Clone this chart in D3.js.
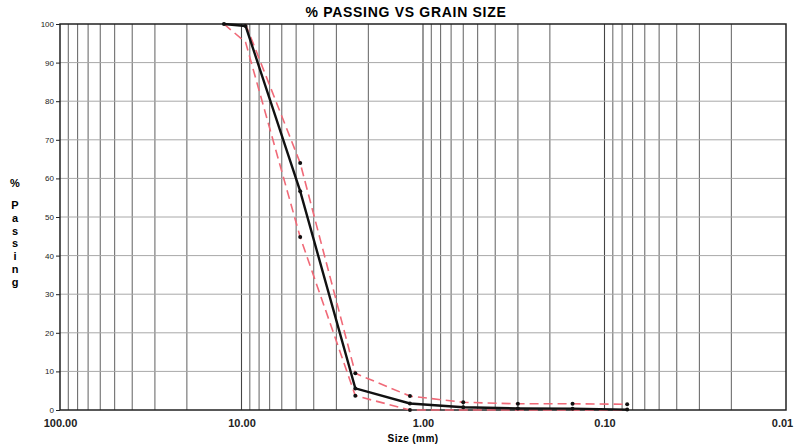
<!DOCTYPE html>
<html>
<head>
<meta charset="utf-8">
<script src="https://cdn.jsdelivr.net/npm/d3@7"></script>
<style>
  body { margin: 0; background: #fff; }
  svg { font-family: "Liberation Sans", Arial, sans-serif; }
</style>
</head>
<body>
<svg id="chart" width="797" height="446"></svg>
<script>
// sieve sizes (mm) and % passing
const sizes = [12.5, 9.5, 4.75, 2.36, 1.18, 0.6, 0.3, 0.15, 0.075];
const passing = [100, 99.5, 56.7, 5.6, 1.7, 0.7, 0.4, 0.35, 0.1];
const upperSizes = [9.5, 4.75, 2.36, 1.18, 0.6, 0.3, 0.15, 0.075];
const upperLimit = [100, 64, 9.5, 3.6, 2.0, 1.6, 1.6, 1.5];
const lowerSizes = [12.5, 9.5, 4.75, 2.36, 1.18, 0.6, 0.3, 0.15, 0.075];
const lowerLimit = [100, 95.3, 44.8, 3.7, 0, 0, 0, 0, 0];
const xTicks = [100, 10, 1, 0.1, 0.01];
const yTicks = d3.range(0, 101, 10);

const svg = d3.select("#chart");
const margin = {top: 24, right: 11, bottom: 36, left: 60};
const width = 797 - margin.left - margin.right;
const height = 446 - margin.top - margin.bottom;
const g = svg.append("g").attr("transform", `translate(${margin.left},${margin.top})`);

// reversed log axis: coarse on the left
const x = d3.scaleLog().domain([100, 0.01]).range([0, width]);
const y = d3.scaleLinear().domain([0, 100]).range([height, 0]);

// vertical grid at 1..9 of each decade
const minor = [];
[0.01, 0.1, 1, 10].forEach(dec => {
    for (let k = 1; k <= 9; k++) minor.push(dec * k);
});
g.append("g").selectAll("line")
    .data(minor.filter(v => v > 0.01 && v < 100))
    .join("line")
    .attr("x1", d => x(d)).attr("x2", d => x(d))
    .attr("y1", 0).attr("y2", height)
    .attr("stroke", d => xTicks.includes(d) ? "#444" : "#6e6e6e")
    .attr("stroke-width", 1.1);

// horizontal grid
g.append("g").selectAll("line")
    .data(yTicks.slice(1, -1))
    .join("line")
    .attr("x1", 0).attr("x2", width)
    .attr("y1", d => y(d)).attr("y2", d => y(d))
    .attr("stroke", "#a8a8a8")
    .attr("stroke-width", 1);

// frame
g.append("rect")
    .attr("width", width).attr("height", height)
    .attr("fill", "none").attr("stroke", "#222").attr("stroke-width", 1.5);

// axes labels (ticks)
const yAxis = g.append("g").call(d3.axisLeft(y).tickValues(yTicks).tickSize(4).tickFormat(d3.format("d")));
yAxis.select(".domain").remove();
yAxis.selectAll("text").attr("font-size", 8).attr("fill", "#222").attr("x", -6);
yAxis.selectAll("line").attr("stroke", "#222");

const xAxis = g.append("g").attr("transform", `translate(0,${height})`)
    .call(d3.axisBottom(x).tickValues(xTicks).tickSize(0).tickFormat(d3.format(".2f")));
xAxis.select(".domain").remove();
xAxis.selectAll("text").attr("font-size", 11).attr("font-weight", "bold").attr("fill", "#222").attr("dy", "1.3em")
    .attr("dx", d => d === 0.01 ? -4 : 0);

const line = d3.line().x(d => x(d[0])).y(d => y(d[1]));

const upper = upperSizes.map((s, i) => [s, upperLimit[i]]);
const lower = lowerSizes.map((s, i) => [s, lowerLimit[i]]);
const main = sizes.map((s, i) => [s, passing[i]]);

[upper, lower].forEach(pts => {
    g.append("path").datum(pts)
        .attr("d", line)
        .attr("fill", "none")
        .attr("stroke", "#f06a78")
        .attr("stroke-width", 1.6)
        .attr("stroke-dasharray", "9,5");
});

g.append("path").datum(main)
    .attr("d", line)
    .attr("fill", "none")
    .attr("stroke", "#111")
    .attr("stroke-width", 2.4);

// point markers
g.append("g").selectAll("circle")
    .data(main.concat(upper.slice(1), lower.slice(2, 5)))
    .join("circle")
    .attr("cx", d => x(d[0])).attr("cy", d => y(d[1]))
    .attr("r", 2)
    .attr("fill", "#111");

// title
svg.append("text")
    .attr("x", 406).attr("y", 17)
    .attr("text-anchor", "middle")
    .attr("font-size", 14).attr("font-weight", "bold")
    .attr("letter-spacing", 0.7)
    .text("% PASSING VS GRAIN SIZE");

// y label, stacked letters
const yl = svg.append("text")
    .attr("text-anchor", "middle")
    .attr("font-size", 11).attr("font-weight", "bold");
yl.append("tspan").attr("x", 15).attr("y", 187).text("%");
"Passing".split("").forEach((c, i) => {
    yl.append("tspan").attr("x", 15).attr("y", 209 + i * 12.8).text(c);
});

// x label
svg.append("text")
    .attr("x", 413).attr("y", 442)
    .attr("text-anchor", "middle")
    .attr("font-size", 10).attr("font-weight", "bold")
    .attr("letter-spacing", 0.4)
    .text("Size (mm)");
</script>
</body>
</html>
